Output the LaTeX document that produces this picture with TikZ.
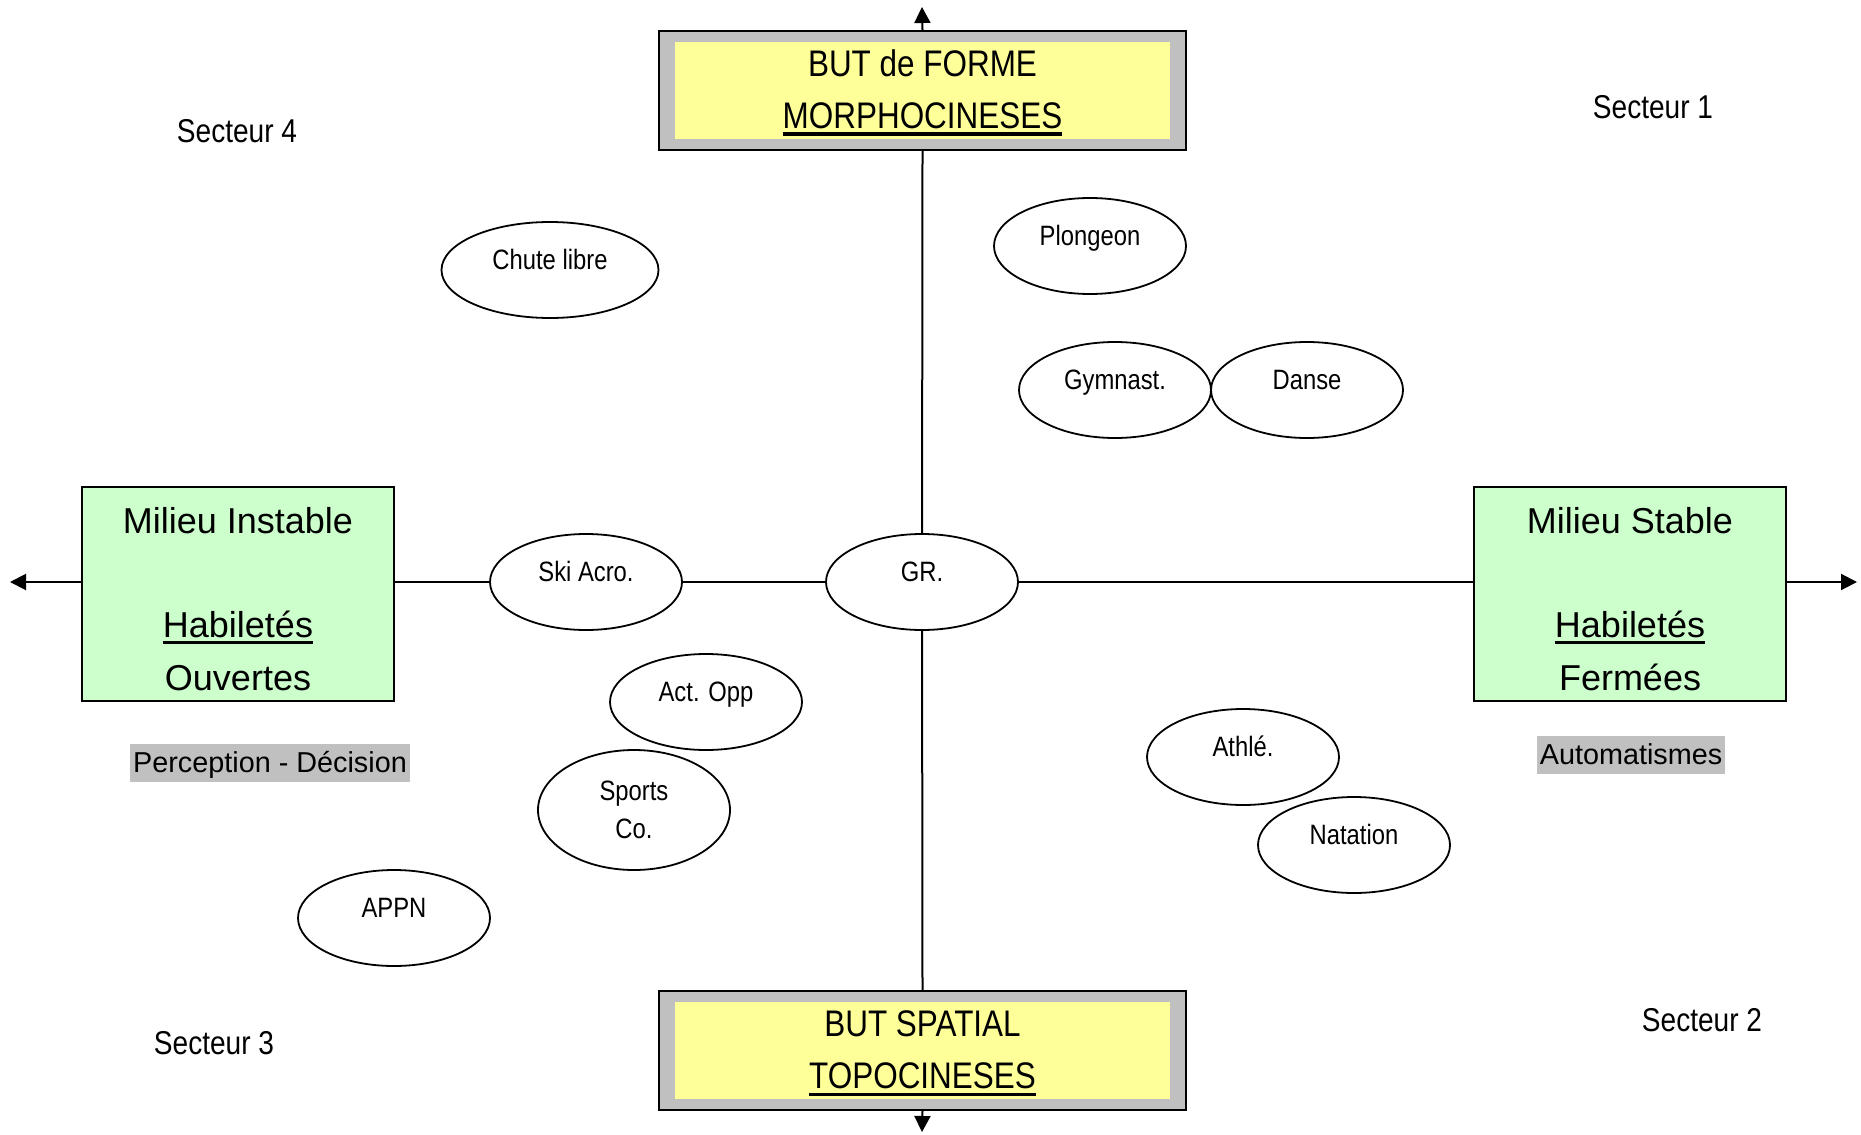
\documentclass[tikz,border=0pt]{standalone}
\usepackage{fontspec}
\setmainfont{Liberation Sans}
\newfontfamily\narrowfont{Liberation Sans}[FakeStretch=0.85]
\usetikzlibrary{shapes.geometric,arrows.meta,positioning,calc}
\usepackage{xcolor}
\definecolor{goalyellow}{HTML}{FFFF99}
\definecolor{framegray}{HTML}{C0C0C0}
\definecolor{envgreen}{HTML}{CCFFCC}
\newcommand{\souligne}[1]{\setbox0\hbox{#1}\rlap{\rule[-3.6pt]{\wd0}{1.8pt}}\box0}

\begin{document}
\begin{tikzpicture}[x=0.5pt, y=-0.5pt,
  every node/.style={inner sep=0pt},
  axe/.style ={line width=1pt},
  tip/.style ={axe, -{Triangle[length=8pt,width=8pt]}},
  act/.style ={ellipse, draw, line width=0.9pt, fill=white,
               minimum width=96pt, minimum height=48pt,
               font=\narrowfont\fontsize{14}{18}\selectfont},
  actu/.style={act, text height=9.8pt, text depth=10.2pt},
  goal/.style={rectangle, draw, line width=0.9pt, fill=framegray,
               minimum width=263.5pt, minimum height=59.5pt},
  goalin/.style={rectangle, fill=goalyellow, align=center,
               minimum width=247.5pt, minimum height=48.5pt,
               font=\narrowfont\fontsize{18.5}{26}\selectfont},
  env/.style ={rectangle, draw, line width=0.9pt, fill=envgreen, align=center,
               minimum width=156pt, minimum height=107pt,
               font=\fontsize{18}{26.5}\selectfont},
  mode/.style={fill=framegray, inner xsep=1.5pt, inner ysep=1pt,
               text height=13pt, text depth=4pt, font=\fontsize{14.4}{17}\selectfont},
  sect/.style={font=\narrowfont\fontsize{16.5}{20}\selectfont}
]
\useasboundingbox (0,0) rectangle (1861,1134);

%% goal boxes (top / bottom)
\node[goal] (forme) at (922.5,90.5) {};
\node[goalin] (formetxt) at (forme.center)
  {\rule{0pt}{16pt}BUT de FORME\\\souligne{MORPHOCINESES}};
\node[goal] (spatial) at (922.5,1050.5) {};
\node[goalin] (spatialtxt) at (spatial.center)
  {\rule{0pt}{16pt}BUT SPATIAL\\\souligne{TOPOCINESES}};

%% milieu boxes (left / right)
\node[env] (instable) at (238,594)
  {\rule{0pt}{17.8pt}Milieu Instable\\[25.5pt]\souligne{Habiletés}\\Ouvertes};
\node[env] (stable) at (1630,594)
  {\rule{0pt}{17.8pt}Milieu Stable\\[25.5pt]\souligne{Habiletés}\\Fermées};

%% activities
\node[actu] (gr)     at (922,582)  {GR.};
\node[actu] (ski)    at (586,582)  {Ski Acro.};
\node[actu, minimum width=108.5pt] (chute) at (550,270) {Chute libre};
\node[actu] (plong)  at (1090,246) {Plongeon};
\node[actu] (gym)    at (1115,390) {Gymnast.};
\node[actu] (danse)  at (1307,390) {Danse};
\node[actu] (actopp) at (706,702)  {Act. Opp};
\node[act, align=center, minimum height=60pt] (sports) at (634,810) {Sports\\[1pt]Co.};
\node[actu] (appn)   at (394,918)  {APPN};
\node[actu] (athle)  at (1243,757) {Athlé.};
\node[actu] (nat)    at (1354,845) {Natation};

%% axis ends
\coordinate (ntip) at (922,7);
\coordinate (stip) at (922,1132);
\coordinate (wtip) at (10,582);
\coordinate (etip) at (1857,582);

%% axes
\draw[tip] (forme.north) -- (ntip);
\draw[axe] (forme.south) -- (gr);
\draw[axe] (gr) -- (spatial.north);
\draw[tip] (spatial.south) -- (stip);
\draw[tip] (instable.west |- gr) -- (wtip);
\draw[axe] (instable.east |- gr) -- (ski);
\draw[axe] (ski) -- (gr);
\draw[axe] (gr) -- (stable.west |- gr);
\draw[tip] (stable.east |- gr) -- (etip);

%% modes
\node[mode] (percep) at (270,763)  {Perception - Décision};
\node[mode] (autom)  at (1631,755) {Automatismes};

%% sectors
\node[sect] (s1) at (1653,107) {Secteur 1};
\node[sect] (s2) at (1702,1020) {Secteur 2};
\node[sect] (s3) at (214,1043) {Secteur 3};
\node[sect] (s4) at (237,131)  {Secteur 4};
\end{tikzpicture}
\end{document}
